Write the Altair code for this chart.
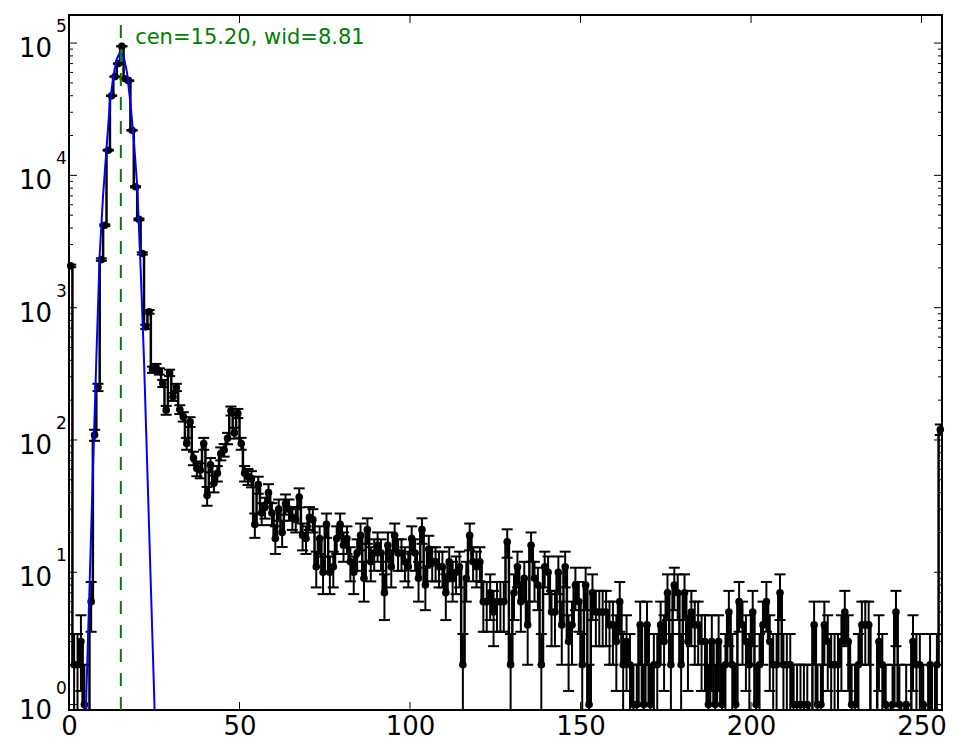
import altair as alt
import pandas as pd
import numpy as np

# ---- data (one count per bin, bins centred at i+0.5) ----
counts = [
    2070, 2, 2, 3, 1, 0, 6, 109, 250, 2310, 4200, 15500, 40000, 55800, 70000, 94600,
    53700, 52000, 21900, 8200, 4650, 2570, 716, 930, 340, 357, 330, 268, 168, 322, 212, 250,
    170, 150, 94, 137, 73, 61, 59, 94, 38, 65, 47, 56, 79, 84, 103, 166,
    113, 159, 94, 56, 53, 51, 23, 46, 28, 31, 40, 28, 18, 30, 20, 33,
    30, 26, 25, 37, 19, 18, 26, 25, 11, 18, 10, 23, 10, 11, 18, 23,
    16, 18, 12, 10, 14, 19, 9, 21, 12, 14, 16, 14, 7, 16, 11, 19,
    14, 14, 12, 11, 18, 14, 9, 21, 8, 15, 12, 12, 11, 11, 7, 12,
    9, 10, 11, 2, 9, 19, 12, 11, 12, 6, 6, 7, 5, 6, 6, 6,
    17, 2, 7, 11, 6, 9, 4, 16, 9, 8, 2, 11, 10, 5, 5, 10,
    4, 11, 3, 4, 8, 6, 2, 8, 1, 7, 5, 5, 5, 5, 4, 4,
    3, 6, 2, 3, 2, 1, 1, 4, 1, 4, 1, 2, 2, 4, 3, 7,
    2, 8, 7, 2, 7, 3, 5, 4, 4, 3, 3, 1, 3, 1, 3, 1,
    2, 5, 2, 1, 6, 4, 3, 2, 5, 1, 2, 4, 6, 3, 2, 2,
    7, 2, 2, 2, 1, 1, 1, 1, 1, 0, 4, 1, 1, 4, 3, 2,
    2, 2, 3, 5, 3, 1, 1, 2, 4, 4, 4, 0, 0, 3, 2, 1,
    0, 1, 5, 1, 0, 1, 0, 3, 2, 2, 1, 0, 2, 0, 2, 120,
]

# fitted curve (blue)
fit_x = [4, 5, 6, 7, 8, 9, 10, 11, 12, 13, 14, 15, 16, 17, 18, 19, 20, 21, 22, 23, 24, 25, 26]
fit_y = [0.126, 1.0, 7.4, 56, 398, 2512, 7080, 15850, 35480, 56230, 75860, 85110, 79430,
         60260, 35480, 18620, 8318, 1995, 398, 56, 7.9, 1.12, 0.14]

cen = 15.20
wid = 8.81
label_text = f"cen={cen:.2f}, wid={wid:.2f}"
label_x = 19.4
label_y = 98300

x_ticks = [0, 50, 100, 150, 200, 250]
y_decades = [1, 10, 100, 1000, 10000, 100000]
y_exps = ["0", "1", "2", "3", "4", "5"]
minor_mult = [2, 3, 4, 5, 6, 7, 8, 9]

# ---- layout ----
W, H = 873, 695
FLOOR = 1e-3
YMIN, YMAX = 0.91, 163000
FONT = "DejaVu Sans"

xs = alt.Scale(domain=[0, 256], nice=False, zero=False)
ys = alt.Scale(type="log", domain=[YMIN, YMAX], nice=False)
x_axis = alt.Axis(values=x_ticks, ticks=False, tickSize=0, domain=False, grid=False,
                  labelFontSize=26, labelFont=FONT, labelColor="black", labelPadding=3,
                  labelBaseline="top", labelOverlap=False, labelFlush=False,
                  title=None, format="d")
x_enc = alt.X("x:Q", scale=xs, axis=x_axis)

n = np.array(counts, dtype=float)
err = np.sqrt(n)
data = pd.DataFrame({
    "x": np.arange(len(counts)) + 0.5,
    "n": n,
    "plot_n": np.where(n > 0, n, FLOOR),
    "lo": np.maximum(n - err, FLOOR),
    "hi": n + err,
})
pos = data[data["n"] > 0]

step = alt.Chart(data).mark_line(interpolate="step", color="black", strokeWidth=2.5, clip=True).encode(
    x=x_enc, y=alt.Y("plot_n:Q", scale=ys, axis=None))

bars = alt.Chart(pos).mark_rule(color="black", strokeWidth=2, clip=True).encode(
    x=x_enc, y=alt.Y("lo:Q", scale=ys, axis=None), y2="hi:Q")

cap_lo = alt.Chart(pos).mark_tick(orient="horizontal", color="black", size=11, thickness=2,
                                  clip=True, opacity=1).encode(
    x=x_enc, y=alt.Y("lo:Q", scale=ys, axis=None))
cap_hi = alt.Chart(pos).mark_tick(orient="horizontal", color="black", size=11, thickness=2,
                                  clip=True, opacity=1).encode(
    x=x_enc, y=alt.Y("hi:Q", scale=ys, axis=None))

pts = alt.Chart(pos).mark_circle(color="black", size=58, opacity=1).encode(
    x=x_enc, y=alt.Y("n:Q", scale=ys, axis=None))

fit_df = pd.DataFrame({"x": fit_x, "y": fit_y})
fit = alt.Chart(fit_df).mark_line(color="#0000ff", strokeWidth=2, clip=True).encode(
    x=x_enc, y=alt.Y("y:Q", scale=ys, axis=None))

vline = alt.Chart(pd.DataFrame({"x": [cen]})).mark_rule(
    color="#008000", strokeWidth=2, strokeDash=[13, 11]).encode(
    x=x_enc, y=alt.value(H), y2=alt.value(0))

ann = alt.Chart(pd.DataFrame({"x": [label_x], "y": [label_y], "t": [label_text]})).mark_text(
    align="left", baseline="alphabetic", fontSize=21, font=FONT, color="#008000").encode(
    x=x_enc, y=alt.Y("y:Q", scale=ys, axis=None), text="t:N")

# y tick labels 10^k
ylab = pd.DataFrame({"v": y_decades, "e": y_exps})
ybase = alt.Chart(ylab).mark_text(align="right", baseline="alphabetic", fontSize=26, font=FONT,
                                  color="black", dy=14).encode(
    x=alt.value(-17), y=alt.Y("v:Q", scale=ys, axis=None), text=alt.value("10"))
yexp = alt.Chart(ylab).mark_text(align="left", baseline="alphabetic", fontSize=17, font=FONT,
                                 color="black", dy=-11).encode(
    x=alt.value(-13), y=alt.Y("v:Q", scale=ys, axis=None), text="e:N")

# inward ticks on all four sides
ymaj = pd.DataFrame({"v": y_decades})
ymin = pd.DataFrame({"v": [m * d for d in y_decades for m in minor_mult if m * d < YMAX]})


def ytick_layers(df, length):
    yenc = alt.Y("v:Q", scale=ys, axis=None)
    left = alt.Chart(df).mark_rule(color="black", strokeWidth=1).encode(
        y=yenc, x=alt.value(0), x2=alt.value(length))
    right = alt.Chart(df).mark_rule(color="black", strokeWidth=1).encode(
        y=yenc, x=alt.value(W - length), x2=alt.value(W))
    return [left, right]


xt = pd.DataFrame({"x": x_ticks})
xbot = alt.Chart(xt).mark_rule(color="black", strokeWidth=1).encode(
    x=x_enc, y=alt.value(H), y2=alt.value(H - 8))
xtop = alt.Chart(xt).mark_rule(color="black", strokeWidth=1).encode(
    x=x_enc, y=alt.value(0), y2=alt.value(8))

layers = [step, bars, cap_lo, cap_hi, pts, fit, vline, ann, ybase, yexp, xbot, xtop]
layers += ytick_layers(ymaj, 8) + ytick_layers(ymin, 4)

chart = alt.layer(*layers).properties(
    width=W, height=H,
    padding={"left": 61, "top": 7, "right": 15, "bottom": 35},
    autosize=alt.AutoSizeParams(type="none"),
    background="white",
).configure_view(stroke="black", strokeWidth=2)

chart.save("out.html", embed_options={"renderer": "svg", "actions": False})
